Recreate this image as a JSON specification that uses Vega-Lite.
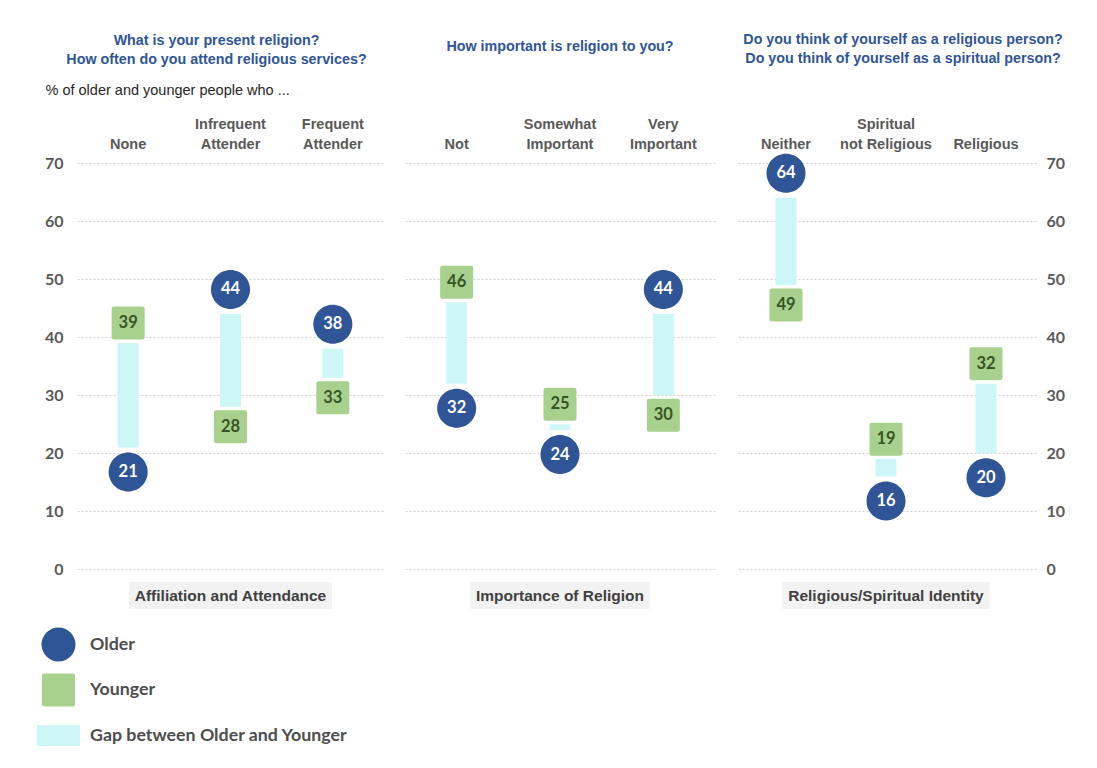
{
  "$schema": "https://vega.github.io/schema/vega-lite/v6.json",
  "padding": {"left": 37, "top": 32, "right": 5, "bottom": 5},
  "spacing": 21,
  "config": {
    "view": {"stroke": null},
    "title": {"font": "Liberation Sans, Arial, sans-serif", "fontSize": 14.3, "fontWeight": "bold", "color": "#2f5597", "lineHeight": 19, "anchor": "middle"}
  },
  "hconcat": [
    {
      "width": 307,
      "height": 450,
      "title": {"text": ["What is your present religion?", "How often do you attend religious services?"], "offset": 15, "dx": -14},
      "data": {"values": [
        {"cat": "None", "older": 21, "younger": 39},
        {"cat": "Infrequent Attender", "older": 44, "younger": 28},
        {"cat": "Frequent Attender", "older": 38, "younger": 33}
      ]},
      "layer": [
        {
          "mark": {"type": "bar", "size": 21},
          "encoding": {
            "x": {"field": "cat", "type": "nominal", "scale": {"domain": ["None", "Infrequent Attender", "Frequent Attender"], "paddingInner": 0, "paddingOuter": 0}, "axis": {"orient": "top", "domain": false, "ticks": false, "grid": false, "labelAngle": 0, "labelPadding": 32, "labelLineHeight": 20, "labelFont": "Liberation Sans, Arial, sans-serif", "labelFontSize": 14.5, "labelFontWeight": "bold", "labelColor": "#595959", "labelExpr": "datum.value == 'Spiritual not Religious' ? ['Spiritual', 'not Religious'] : indexof(datum.value, ' ') > 0 ? split(datum.value, ' ') : ['', datum.value]", "title": "% of older and younger people who ...", "titleFont": "Liberation Sans, Arial, sans-serif", "titleFontSize": 14.5, "titleFontWeight": "normal", "titleColor": "#262626", "titleAnchor": "start", "titleAlign": "left", "titleX": -32, "titlePadding": 19}},
            "y": {"field": "older", "type": "quantitative", "scale": {"domain": [-7.5, 70], "nice": false, "zero": false}, "axis": {"orient": "left", "values": [0, 10, 20, 30, 40, 50, 60, 70], "domain": false, "ticks": false, "grid": true, "gridColor": "#d0d0d0", "gridDash": [2, 2], "labelPadding": 14, "labelFont": "Lato", "labelFontSize": 16, "labelFontWeight": "bold", "labelColor": "#595959", "labelFlush": false, "labelOverlap": false, "title": null}},
            "y2": {"field": "younger"},
            "color": {"datum": "Gap between Older and Younger", "scale": {"domain": ["Older", "Younger", "Gap between Older and Younger"], "range": ["#2f5597", "#a9d18e", "#ccf6f7"]}, "legend": {"title": null, "orient": "none", "legendX": -40, "legendY": 460, "symbolSize": 1849, "labelFont": "Lato", "labelFontSize": 17.8, "labelFontWeight": "bold", "labelColor": "#4d4d4d", "labelOffset": 10, "rowPadding": 6.5, "symbolStrokeWidth": 0, "symbolOpacity": 1, "labelLimit": 400}}
          }
        },
        {
          "data": {"values": [{"label": "Affiliation and Attendance"}]},
          "mark": {"type": "bar", "width": 203, "color": "#f2f2f2"},
          "encoding": {
            "x": {"datum": "Infrequent Attender", "type": "nominal", "scale": {"domain": ["None", "Infrequent Attender", "Frequent Attender"], "paddingInner": 0, "paddingOuter": 0}, "axis": {"orient": "top", "domain": false, "ticks": false, "grid": false, "labelAngle": 0, "labelPadding": 32, "labelLineHeight": 20, "labelFont": "Liberation Sans, Arial, sans-serif", "labelFontSize": 14.5, "labelFontWeight": "bold", "labelColor": "#595959", "labelExpr": "datum.value == 'Spiritual not Religious' ? ['Spiritual', 'not Religious'] : indexof(datum.value, ' ') > 0 ? split(datum.value, ' ') : ['', datum.value]", "title": "% of older and younger people who ...", "titleFont": "Liberation Sans, Arial, sans-serif", "titleFontSize": 14.5, "titleFontWeight": "normal", "titleColor": "#262626", "titleAnchor": "start", "titleAlign": "left", "titleX": -32, "titlePadding": 19}},
            "y": {"datum": -2.17, "type": "quantitative", "scale": {"domain": [-7.5, 70], "nice": false, "zero": false}, "axis": {"orient": "left", "values": [0, 10, 20, 30, 40, 50, 60, 70], "domain": false, "ticks": false, "grid": true, "gridColor": "#d0d0d0", "gridDash": [2, 2], "labelPadding": 14, "labelFont": "Lato", "labelFontSize": 16, "labelFontWeight": "bold", "labelColor": "#595959", "labelFlush": false, "labelOverlap": false, "title": null}},
            "y2": {"datum": -6.82}
          }
        },
        {
          "data": {"values": [{"label": "Affiliation and Attendance"}]},
          "mark": {"type": "text", "font": "Liberation Sans, Arial, sans-serif", "fontSize": 15.5, "fontWeight": "bold", "color": "#404040", "baseline": "middle"},
          "encoding": {
            "x": {"datum": "Infrequent Attender", "type": "nominal", "scale": {"domain": ["None", "Infrequent Attender", "Frequent Attender"], "paddingInner": 0, "paddingOuter": 0}, "axis": {"orient": "top", "domain": false, "ticks": false, "grid": false, "labelAngle": 0, "labelPadding": 32, "labelLineHeight": 20, "labelFont": "Liberation Sans, Arial, sans-serif", "labelFontSize": 14.5, "labelFontWeight": "bold", "labelColor": "#595959", "labelExpr": "datum.value == 'Spiritual not Religious' ? ['Spiritual', 'not Religious'] : indexof(datum.value, ' ') > 0 ? split(datum.value, ' ') : ['', datum.value]", "title": "% of older and younger people who ...", "titleFont": "Liberation Sans, Arial, sans-serif", "titleFontSize": 14.5, "titleFontWeight": "normal", "titleColor": "#262626", "titleAnchor": "start", "titleAlign": "left", "titleX": -32, "titlePadding": 19}},
            "y": {"datum": -4.58, "type": "quantitative", "scale": {"domain": [-7.5, 70], "nice": false, "zero": false}, "axis": {"orient": "left", "values": [0, 10, 20, 30, 40, 50, 60, 70], "domain": false, "ticks": false, "grid": true, "gridColor": "#d0d0d0", "gridDash": [2, 2], "labelPadding": 14, "labelFont": "Lato", "labelFontSize": 16, "labelFontWeight": "bold", "labelColor": "#595959", "labelFlush": false, "labelOverlap": false, "title": null}},
            "text": {"field": "label"}
          }
        },
        {
          "transform": [{"filter": "datum.older > datum.younger"}],
          "mark": {"type": "point", "filled": true, "opacity": 1, "size": 2437, "yOffset": -24.5},
          "encoding": {
            "x": {"field": "cat", "type": "nominal", "scale": {"domain": ["None", "Infrequent Attender", "Frequent Attender"], "paddingInner": 0, "paddingOuter": 0}, "axis": {"orient": "top", "domain": false, "ticks": false, "grid": false, "labelAngle": 0, "labelPadding": 32, "labelLineHeight": 20, "labelFont": "Liberation Sans, Arial, sans-serif", "labelFontSize": 14.5, "labelFontWeight": "bold", "labelColor": "#595959", "labelExpr": "datum.value == 'Spiritual not Religious' ? ['Spiritual', 'not Religious'] : indexof(datum.value, ' ') > 0 ? split(datum.value, ' ') : ['', datum.value]", "title": "% of older and younger people who ...", "titleFont": "Liberation Sans, Arial, sans-serif", "titleFontSize": 14.5, "titleFontWeight": "normal", "titleColor": "#262626", "titleAnchor": "start", "titleAlign": "left", "titleX": -32, "titlePadding": 19}},
            "y": {"field": "older", "type": "quantitative", "scale": {"domain": [-7.5, 70], "nice": false, "zero": false}, "axis": {"orient": "left", "values": [0, 10, 20, 30, 40, 50, 60, 70], "domain": false, "ticks": false, "grid": true, "gridColor": "#d0d0d0", "gridDash": [2, 2], "labelPadding": 14, "labelFont": "Lato", "labelFontSize": 16, "labelFontWeight": "bold", "labelColor": "#595959", "labelFlush": false, "labelOverlap": false, "title": null}},
            "color": {"datum": "Older", "scale": {"domain": ["Older", "Younger", "Gap between Older and Younger"], "range": ["#2f5597", "#a9d18e", "#ccf6f7"]}, "legend": {"title": null, "orient": "none", "legendX": -40, "legendY": 460, "symbolSize": 1849, "labelFont": "Lato", "labelFontSize": 17.8, "labelFontWeight": "bold", "labelColor": "#4d4d4d", "labelOffset": 10, "rowPadding": 6.5, "symbolStrokeWidth": 0, "symbolOpacity": 1, "labelLimit": 400}},
            "shape": {"datum": "Older", "scale": {"domain": ["Older", "Younger", "Gap between Older and Younger"], "range": ["M-0.79,0A0.79,0.79,0,1,0,0.79,0A0.79,0.79,0,1,0,-0.79,0Z", "M-0.67,-0.77L0.67,-0.77Q0.77,-0.77,0.77,-0.67L0.77,0.67Q0.77,0.77,0.67,0.77L-0.67,0.77Q-0.77,0.77,-0.77,0.67L-0.77,-0.67Q-0.77,-0.77,-0.67,-0.77Z", "M-1,-0.49L1,-0.49L1,0.49L-1,0.49Z"]}, "legend": {"title": null, "orient": "none", "legendX": -40, "legendY": 460, "symbolSize": 1849, "labelFont": "Lato", "labelFontSize": 17.8, "labelFontWeight": "bold", "labelColor": "#4d4d4d", "labelOffset": 10, "rowPadding": 6.5, "symbolStrokeWidth": 0, "symbolOpacity": 1, "labelLimit": 400}}
          }
        },
        {
          "transform": [{"filter": "datum.older <= datum.younger"}],
          "mark": {"type": "point", "filled": true, "opacity": 1, "size": 2437, "yOffset": 24.5},
          "encoding": {
            "x": {"field": "cat", "type": "nominal", "scale": {"domain": ["None", "Infrequent Attender", "Frequent Attender"], "paddingInner": 0, "paddingOuter": 0}, "axis": {"orient": "top", "domain": false, "ticks": false, "grid": false, "labelAngle": 0, "labelPadding": 32, "labelLineHeight": 20, "labelFont": "Liberation Sans, Arial, sans-serif", "labelFontSize": 14.5, "labelFontWeight": "bold", "labelColor": "#595959", "labelExpr": "datum.value == 'Spiritual not Religious' ? ['Spiritual', 'not Religious'] : indexof(datum.value, ' ') > 0 ? split(datum.value, ' ') : ['', datum.value]", "title": "% of older and younger people who ...", "titleFont": "Liberation Sans, Arial, sans-serif", "titleFontSize": 14.5, "titleFontWeight": "normal", "titleColor": "#262626", "titleAnchor": "start", "titleAlign": "left", "titleX": -32, "titlePadding": 19}},
            "y": {"field": "older", "type": "quantitative", "scale": {"domain": [-7.5, 70], "nice": false, "zero": false}, "axis": {"orient": "left", "values": [0, 10, 20, 30, 40, 50, 60, 70], "domain": false, "ticks": false, "grid": true, "gridColor": "#d0d0d0", "gridDash": [2, 2], "labelPadding": 14, "labelFont": "Lato", "labelFontSize": 16, "labelFontWeight": "bold", "labelColor": "#595959", "labelFlush": false, "labelOverlap": false, "title": null}},
            "color": {"datum": "Older", "scale": {"domain": ["Older", "Younger", "Gap between Older and Younger"], "range": ["#2f5597", "#a9d18e", "#ccf6f7"]}, "legend": {"title": null, "orient": "none", "legendX": -40, "legendY": 460, "symbolSize": 1849, "labelFont": "Lato", "labelFontSize": 17.8, "labelFontWeight": "bold", "labelColor": "#4d4d4d", "labelOffset": 10, "rowPadding": 6.5, "symbolStrokeWidth": 0, "symbolOpacity": 1, "labelLimit": 400}},
            "shape": {"datum": "Older", "scale": {"domain": ["Older", "Younger", "Gap between Older and Younger"], "range": ["M-0.79,0A0.79,0.79,0,1,0,0.79,0A0.79,0.79,0,1,0,-0.79,0Z", "M-0.67,-0.77L0.67,-0.77Q0.77,-0.77,0.77,-0.67L0.77,0.67Q0.77,0.77,0.67,0.77L-0.67,0.77Q-0.77,0.77,-0.77,0.67L-0.77,-0.67Q-0.77,-0.77,-0.67,-0.77Z", "M-1,-0.49L1,-0.49L1,0.49L-1,0.49Z"]}, "legend": {"title": null, "orient": "none", "legendX": -40, "legendY": 460, "symbolSize": 1849, "labelFont": "Lato", "labelFontSize": 17.8, "labelFontWeight": "bold", "labelColor": "#4d4d4d", "labelOffset": 10, "rowPadding": 6.5, "symbolStrokeWidth": 0, "symbolOpacity": 1, "labelLimit": 400}}
          }
        },
        {
          "transform": [{"filter": "datum.older > datum.younger"}],
          "mark": {"type": "text", "yOffset": -24.5, "color": "#ffffff", "font": "Lato", "fontWeight": "bold", "fontSize": 16.5, "baseline": "middle"},
          "encoding": {
            "x": {"field": "cat", "type": "nominal", "scale": {"domain": ["None", "Infrequent Attender", "Frequent Attender"], "paddingInner": 0, "paddingOuter": 0}, "axis": {"orient": "top", "domain": false, "ticks": false, "grid": false, "labelAngle": 0, "labelPadding": 32, "labelLineHeight": 20, "labelFont": "Liberation Sans, Arial, sans-serif", "labelFontSize": 14.5, "labelFontWeight": "bold", "labelColor": "#595959", "labelExpr": "datum.value == 'Spiritual not Religious' ? ['Spiritual', 'not Religious'] : indexof(datum.value, ' ') > 0 ? split(datum.value, ' ') : ['', datum.value]", "title": "% of older and younger people who ...", "titleFont": "Liberation Sans, Arial, sans-serif", "titleFontSize": 14.5, "titleFontWeight": "normal", "titleColor": "#262626", "titleAnchor": "start", "titleAlign": "left", "titleX": -32, "titlePadding": 19}},
            "y": {"field": "older", "type": "quantitative", "scale": {"domain": [-7.5, 70], "nice": false, "zero": false}, "axis": {"orient": "left", "values": [0, 10, 20, 30, 40, 50, 60, 70], "domain": false, "ticks": false, "grid": true, "gridColor": "#d0d0d0", "gridDash": [2, 2], "labelPadding": 14, "labelFont": "Lato", "labelFontSize": 16, "labelFontWeight": "bold", "labelColor": "#595959", "labelFlush": false, "labelOverlap": false, "title": null}},
            "text": {"field": "older"}
          }
        },
        {
          "transform": [{"filter": "datum.older <= datum.younger"}],
          "mark": {"type": "text", "yOffset": 24.5, "color": "#ffffff", "font": "Lato", "fontWeight": "bold", "fontSize": 16.5, "baseline": "middle"},
          "encoding": {
            "x": {"field": "cat", "type": "nominal", "scale": {"domain": ["None", "Infrequent Attender", "Frequent Attender"], "paddingInner": 0, "paddingOuter": 0}, "axis": {"orient": "top", "domain": false, "ticks": false, "grid": false, "labelAngle": 0, "labelPadding": 32, "labelLineHeight": 20, "labelFont": "Liberation Sans, Arial, sans-serif", "labelFontSize": 14.5, "labelFontWeight": "bold", "labelColor": "#595959", "labelExpr": "datum.value == 'Spiritual not Religious' ? ['Spiritual', 'not Religious'] : indexof(datum.value, ' ') > 0 ? split(datum.value, ' ') : ['', datum.value]", "title": "% of older and younger people who ...", "titleFont": "Liberation Sans, Arial, sans-serif", "titleFontSize": 14.5, "titleFontWeight": "normal", "titleColor": "#262626", "titleAnchor": "start", "titleAlign": "left", "titleX": -32, "titlePadding": 19}},
            "y": {"field": "older", "type": "quantitative", "scale": {"domain": [-7.5, 70], "nice": false, "zero": false}, "axis": {"orient": "left", "values": [0, 10, 20, 30, 40, 50, 60, 70], "domain": false, "ticks": false, "grid": true, "gridColor": "#d0d0d0", "gridDash": [2, 2], "labelPadding": 14, "labelFont": "Lato", "labelFontSize": 16, "labelFontWeight": "bold", "labelColor": "#595959", "labelFlush": false, "labelOverlap": false, "title": null}},
            "text": {"field": "older"}
          }
        },
        {
          "transform": [{"filter": "datum.older > datum.younger"}],
          "mark": {"type": "point", "filled": true, "opacity": 1, "size": 1837, "yOffset": 20},
          "encoding": {
            "x": {"field": "cat", "type": "nominal", "scale": {"domain": ["None", "Infrequent Attender", "Frequent Attender"], "paddingInner": 0, "paddingOuter": 0}, "axis": {"orient": "top", "domain": false, "ticks": false, "grid": false, "labelAngle": 0, "labelPadding": 32, "labelLineHeight": 20, "labelFont": "Liberation Sans, Arial, sans-serif", "labelFontSize": 14.5, "labelFontWeight": "bold", "labelColor": "#595959", "labelExpr": "datum.value == 'Spiritual not Religious' ? ['Spiritual', 'not Religious'] : indexof(datum.value, ' ') > 0 ? split(datum.value, ' ') : ['', datum.value]", "title": "% of older and younger people who ...", "titleFont": "Liberation Sans, Arial, sans-serif", "titleFontSize": 14.5, "titleFontWeight": "normal", "titleColor": "#262626", "titleAnchor": "start", "titleAlign": "left", "titleX": -32, "titlePadding": 19}},
            "y": {"field": "younger", "type": "quantitative", "scale": {"domain": [-7.5, 70], "nice": false, "zero": false}, "axis": {"orient": "left", "values": [0, 10, 20, 30, 40, 50, 60, 70], "domain": false, "ticks": false, "grid": true, "gridColor": "#d0d0d0", "gridDash": [2, 2], "labelPadding": 14, "labelFont": "Lato", "labelFontSize": 16, "labelFontWeight": "bold", "labelColor": "#595959", "labelFlush": false, "labelOverlap": false, "title": null}},
            "color": {"datum": "Younger", "scale": {"domain": ["Older", "Younger", "Gap between Older and Younger"], "range": ["#2f5597", "#a9d18e", "#ccf6f7"]}, "legend": {"title": null, "orient": "none", "legendX": -40, "legendY": 460, "symbolSize": 1849, "labelFont": "Lato", "labelFontSize": 17.8, "labelFontWeight": "bold", "labelColor": "#4d4d4d", "labelOffset": 10, "rowPadding": 6.5, "symbolStrokeWidth": 0, "symbolOpacity": 1, "labelLimit": 400}},
            "shape": {"datum": "Younger", "scale": {"domain": ["Older", "Younger", "Gap between Older and Younger"], "range": ["M-0.79,0A0.79,0.79,0,1,0,0.79,0A0.79,0.79,0,1,0,-0.79,0Z", "M-0.67,-0.77L0.67,-0.77Q0.77,-0.77,0.77,-0.67L0.77,0.67Q0.77,0.77,0.67,0.77L-0.67,0.77Q-0.77,0.77,-0.77,0.67L-0.77,-0.67Q-0.77,-0.77,-0.67,-0.77Z", "M-1,-0.49L1,-0.49L1,0.49L-1,0.49Z"]}, "legend": {"title": null, "orient": "none", "legendX": -40, "legendY": 460, "symbolSize": 1849, "labelFont": "Lato", "labelFontSize": 17.8, "labelFontWeight": "bold", "labelColor": "#4d4d4d", "labelOffset": 10, "rowPadding": 6.5, "symbolStrokeWidth": 0, "symbolOpacity": 1, "labelLimit": 400}}
          }
        },
        {
          "transform": [{"filter": "datum.older <= datum.younger"}],
          "mark": {"type": "point", "filled": true, "opacity": 1, "size": 1837, "yOffset": -20},
          "encoding": {
            "x": {"field": "cat", "type": "nominal", "scale": {"domain": ["None", "Infrequent Attender", "Frequent Attender"], "paddingInner": 0, "paddingOuter": 0}, "axis": {"orient": "top", "domain": false, "ticks": false, "grid": false, "labelAngle": 0, "labelPadding": 32, "labelLineHeight": 20, "labelFont": "Liberation Sans, Arial, sans-serif", "labelFontSize": 14.5, "labelFontWeight": "bold", "labelColor": "#595959", "labelExpr": "datum.value == 'Spiritual not Religious' ? ['Spiritual', 'not Religious'] : indexof(datum.value, ' ') > 0 ? split(datum.value, ' ') : ['', datum.value]", "title": "% of older and younger people who ...", "titleFont": "Liberation Sans, Arial, sans-serif", "titleFontSize": 14.5, "titleFontWeight": "normal", "titleColor": "#262626", "titleAnchor": "start", "titleAlign": "left", "titleX": -32, "titlePadding": 19}},
            "y": {"field": "younger", "type": "quantitative", "scale": {"domain": [-7.5, 70], "nice": false, "zero": false}, "axis": {"orient": "left", "values": [0, 10, 20, 30, 40, 50, 60, 70], "domain": false, "ticks": false, "grid": true, "gridColor": "#d0d0d0", "gridDash": [2, 2], "labelPadding": 14, "labelFont": "Lato", "labelFontSize": 16, "labelFontWeight": "bold", "labelColor": "#595959", "labelFlush": false, "labelOverlap": false, "title": null}},
            "color": {"datum": "Younger", "scale": {"domain": ["Older", "Younger", "Gap between Older and Younger"], "range": ["#2f5597", "#a9d18e", "#ccf6f7"]}, "legend": {"title": null, "orient": "none", "legendX": -40, "legendY": 460, "symbolSize": 1849, "labelFont": "Lato", "labelFontSize": 17.8, "labelFontWeight": "bold", "labelColor": "#4d4d4d", "labelOffset": 10, "rowPadding": 6.5, "symbolStrokeWidth": 0, "symbolOpacity": 1, "labelLimit": 400}},
            "shape": {"datum": "Younger", "scale": {"domain": ["Older", "Younger", "Gap between Older and Younger"], "range": ["M-0.79,0A0.79,0.79,0,1,0,0.79,0A0.79,0.79,0,1,0,-0.79,0Z", "M-0.67,-0.77L0.67,-0.77Q0.77,-0.77,0.77,-0.67L0.77,0.67Q0.77,0.77,0.67,0.77L-0.67,0.77Q-0.77,0.77,-0.77,0.67L-0.77,-0.67Q-0.77,-0.77,-0.67,-0.77Z", "M-1,-0.49L1,-0.49L1,0.49L-1,0.49Z"]}, "legend": {"title": null, "orient": "none", "legendX": -40, "legendY": 460, "symbolSize": 1849, "labelFont": "Lato", "labelFontSize": 17.8, "labelFontWeight": "bold", "labelColor": "#4d4d4d", "labelOffset": 10, "rowPadding": 6.5, "symbolStrokeWidth": 0, "symbolOpacity": 1, "labelLimit": 400}}
          }
        },
        {
          "transform": [{"filter": "datum.older > datum.younger"}],
          "mark": {"type": "text", "yOffset": 20, "color": "#375623", "font": "Lato", "fontWeight": "bold", "fontSize": 16.5, "baseline": "middle"},
          "encoding": {
            "x": {"field": "cat", "type": "nominal", "scale": {"domain": ["None", "Infrequent Attender", "Frequent Attender"], "paddingInner": 0, "paddingOuter": 0}, "axis": {"orient": "top", "domain": false, "ticks": false, "grid": false, "labelAngle": 0, "labelPadding": 32, "labelLineHeight": 20, "labelFont": "Liberation Sans, Arial, sans-serif", "labelFontSize": 14.5, "labelFontWeight": "bold", "labelColor": "#595959", "labelExpr": "datum.value == 'Spiritual not Religious' ? ['Spiritual', 'not Religious'] : indexof(datum.value, ' ') > 0 ? split(datum.value, ' ') : ['', datum.value]", "title": "% of older and younger people who ...", "titleFont": "Liberation Sans, Arial, sans-serif", "titleFontSize": 14.5, "titleFontWeight": "normal", "titleColor": "#262626", "titleAnchor": "start", "titleAlign": "left", "titleX": -32, "titlePadding": 19}},
            "y": {"field": "younger", "type": "quantitative", "scale": {"domain": [-7.5, 70], "nice": false, "zero": false}, "axis": {"orient": "left", "values": [0, 10, 20, 30, 40, 50, 60, 70], "domain": false, "ticks": false, "grid": true, "gridColor": "#d0d0d0", "gridDash": [2, 2], "labelPadding": 14, "labelFont": "Lato", "labelFontSize": 16, "labelFontWeight": "bold", "labelColor": "#595959", "labelFlush": false, "labelOverlap": false, "title": null}},
            "text": {"field": "younger"}
          }
        },
        {
          "transform": [{"filter": "datum.older <= datum.younger"}],
          "mark": {"type": "text", "yOffset": -20, "color": "#375623", "font": "Lato", "fontWeight": "bold", "fontSize": 16.5, "baseline": "middle"},
          "encoding": {
            "x": {"field": "cat", "type": "nominal", "scale": {"domain": ["None", "Infrequent Attender", "Frequent Attender"], "paddingInner": 0, "paddingOuter": 0}, "axis": {"orient": "top", "domain": false, "ticks": false, "grid": false, "labelAngle": 0, "labelPadding": 32, "labelLineHeight": 20, "labelFont": "Liberation Sans, Arial, sans-serif", "labelFontSize": 14.5, "labelFontWeight": "bold", "labelColor": "#595959", "labelExpr": "datum.value == 'Spiritual not Religious' ? ['Spiritual', 'not Religious'] : indexof(datum.value, ' ') > 0 ? split(datum.value, ' ') : ['', datum.value]", "title": "% of older and younger people who ...", "titleFont": "Liberation Sans, Arial, sans-serif", "titleFontSize": 14.5, "titleFontWeight": "normal", "titleColor": "#262626", "titleAnchor": "start", "titleAlign": "left", "titleX": -32, "titlePadding": 19}},
            "y": {"field": "younger", "type": "quantitative", "scale": {"domain": [-7.5, 70], "nice": false, "zero": false}, "axis": {"orient": "left", "values": [0, 10, 20, 30, 40, 50, 60, 70], "domain": false, "ticks": false, "grid": true, "gridColor": "#d0d0d0", "gridDash": [2, 2], "labelPadding": 14, "labelFont": "Lato", "labelFontSize": 16, "labelFontWeight": "bold", "labelColor": "#595959", "labelFlush": false, "labelOverlap": false, "title": null}},
            "text": {"field": "younger"}
          }
        }
      ]
    },
    {
      "width": 310,
      "height": 450,
      "title": {"text": "How important is religion to you?", "offset": 62},
      "data": {"values": [
        {"cat": "Not", "older": 32, "younger": 46},
        {"cat": "Somewhat Important", "older": 24, "younger": 25},
        {"cat": "Very Important", "older": 44, "younger": 30}
      ]},
      "layer": [
        {
          "mark": {"type": "bar", "size": 21},
          "encoding": {
            "x": {"field": "cat", "type": "nominal", "scale": {"domain": ["Not", "Somewhat Important", "Very Important"], "paddingInner": 0, "paddingOuter": 0}, "axis": {"orient": "top", "domain": false, "ticks": false, "grid": false, "labelAngle": 0, "labelPadding": 32, "labelLineHeight": 20, "labelFont": "Liberation Sans, Arial, sans-serif", "labelFontSize": 14.5, "labelFontWeight": "bold", "labelColor": "#595959", "labelExpr": "datum.value == 'Spiritual not Religious' ? ['Spiritual', 'not Religious'] : indexof(datum.value, ' ') > 0 ? split(datum.value, ' ') : ['', datum.value]", "title": null}},
            "y": {"field": "older", "type": "quantitative", "scale": {"domain": [-7.5, 70], "nice": false, "zero": false}, "axis": {"orient": "left", "values": [0, 10, 20, 30, 40, 50, 60, 70], "domain": false, "ticks": false, "labels": false, "grid": true, "gridColor": "#d0d0d0", "gridDash": [2, 2], "title": null}},
            "y2": {"field": "younger"},
            "color": {"datum": "Gap between Older and Younger", "scale": {"domain": ["Older", "Younger", "Gap between Older and Younger"], "range": ["#2f5597", "#a9d18e", "#ccf6f7"]}, "legend": {"title": null, "orient": "none", "legendX": -40, "legendY": 460, "symbolSize": 1849, "labelFont": "Lato", "labelFontSize": 17.8, "labelFontWeight": "bold", "labelColor": "#4d4d4d", "labelOffset": 10, "rowPadding": 6.5, "symbolStrokeWidth": 0, "symbolOpacity": 1, "labelLimit": 400}}
          }
        },
        {
          "data": {"values": [{"label": "Importance of Religion"}]},
          "mark": {"type": "bar", "width": 179, "color": "#f2f2f2"},
          "encoding": {
            "x": {"datum": "Somewhat Important", "type": "nominal", "scale": {"domain": ["Not", "Somewhat Important", "Very Important"], "paddingInner": 0, "paddingOuter": 0}, "axis": {"orient": "top", "domain": false, "ticks": false, "grid": false, "labelAngle": 0, "labelPadding": 32, "labelLineHeight": 20, "labelFont": "Liberation Sans, Arial, sans-serif", "labelFontSize": 14.5, "labelFontWeight": "bold", "labelColor": "#595959", "labelExpr": "datum.value == 'Spiritual not Religious' ? ['Spiritual', 'not Religious'] : indexof(datum.value, ' ') > 0 ? split(datum.value, ' ') : ['', datum.value]", "title": null}},
            "y": {"datum": -2.17, "type": "quantitative", "scale": {"domain": [-7.5, 70], "nice": false, "zero": false}, "axis": {"orient": "left", "values": [0, 10, 20, 30, 40, 50, 60, 70], "domain": false, "ticks": false, "labels": false, "grid": true, "gridColor": "#d0d0d0", "gridDash": [2, 2], "title": null}},
            "y2": {"datum": -6.82}
          }
        },
        {
          "data": {"values": [{"label": "Importance of Religion"}]},
          "mark": {"type": "text", "font": "Liberation Sans, Arial, sans-serif", "fontSize": 15.5, "fontWeight": "bold", "color": "#404040", "baseline": "middle"},
          "encoding": {
            "x": {"datum": "Somewhat Important", "type": "nominal", "scale": {"domain": ["Not", "Somewhat Important", "Very Important"], "paddingInner": 0, "paddingOuter": 0}, "axis": {"orient": "top", "domain": false, "ticks": false, "grid": false, "labelAngle": 0, "labelPadding": 32, "labelLineHeight": 20, "labelFont": "Liberation Sans, Arial, sans-serif", "labelFontSize": 14.5, "labelFontWeight": "bold", "labelColor": "#595959", "labelExpr": "datum.value == 'Spiritual not Religious' ? ['Spiritual', 'not Religious'] : indexof(datum.value, ' ') > 0 ? split(datum.value, ' ') : ['', datum.value]", "title": null}},
            "y": {"datum": -4.58, "type": "quantitative", "scale": {"domain": [-7.5, 70], "nice": false, "zero": false}, "axis": {"orient": "left", "values": [0, 10, 20, 30, 40, 50, 60, 70], "domain": false, "ticks": false, "labels": false, "grid": true, "gridColor": "#d0d0d0", "gridDash": [2, 2], "title": null}},
            "text": {"field": "label"}
          }
        },
        {
          "transform": [{"filter": "datum.older > datum.younger"}],
          "mark": {"type": "point", "filled": true, "opacity": 1, "size": 2437, "yOffset": -24.5},
          "encoding": {
            "x": {"field": "cat", "type": "nominal", "scale": {"domain": ["Not", "Somewhat Important", "Very Important"], "paddingInner": 0, "paddingOuter": 0}, "axis": {"orient": "top", "domain": false, "ticks": false, "grid": false, "labelAngle": 0, "labelPadding": 32, "labelLineHeight": 20, "labelFont": "Liberation Sans, Arial, sans-serif", "labelFontSize": 14.5, "labelFontWeight": "bold", "labelColor": "#595959", "labelExpr": "datum.value == 'Spiritual not Religious' ? ['Spiritual', 'not Religious'] : indexof(datum.value, ' ') > 0 ? split(datum.value, ' ') : ['', datum.value]", "title": null}},
            "y": {"field": "older", "type": "quantitative", "scale": {"domain": [-7.5, 70], "nice": false, "zero": false}, "axis": {"orient": "left", "values": [0, 10, 20, 30, 40, 50, 60, 70], "domain": false, "ticks": false, "labels": false, "grid": true, "gridColor": "#d0d0d0", "gridDash": [2, 2], "title": null}},
            "color": {"datum": "Older", "scale": {"domain": ["Older", "Younger", "Gap between Older and Younger"], "range": ["#2f5597", "#a9d18e", "#ccf6f7"]}, "legend": {"title": null, "orient": "none", "legendX": -40, "legendY": 460, "symbolSize": 1849, "labelFont": "Lato", "labelFontSize": 17.8, "labelFontWeight": "bold", "labelColor": "#4d4d4d", "labelOffset": 10, "rowPadding": 6.5, "symbolStrokeWidth": 0, "symbolOpacity": 1, "labelLimit": 400}},
            "shape": {"datum": "Older", "scale": {"domain": ["Older", "Younger", "Gap between Older and Younger"], "range": ["M-0.79,0A0.79,0.79,0,1,0,0.79,0A0.79,0.79,0,1,0,-0.79,0Z", "M-0.67,-0.77L0.67,-0.77Q0.77,-0.77,0.77,-0.67L0.77,0.67Q0.77,0.77,0.67,0.77L-0.67,0.77Q-0.77,0.77,-0.77,0.67L-0.77,-0.67Q-0.77,-0.77,-0.67,-0.77Z", "M-1,-0.49L1,-0.49L1,0.49L-1,0.49Z"]}, "legend": {"title": null, "orient": "none", "legendX": -40, "legendY": 460, "symbolSize": 1849, "labelFont": "Lato", "labelFontSize": 17.8, "labelFontWeight": "bold", "labelColor": "#4d4d4d", "labelOffset": 10, "rowPadding": 6.5, "symbolStrokeWidth": 0, "symbolOpacity": 1, "labelLimit": 400}}
          }
        },
        {
          "transform": [{"filter": "datum.older <= datum.younger"}],
          "mark": {"type": "point", "filled": true, "opacity": 1, "size": 2437, "yOffset": 24.5},
          "encoding": {
            "x": {"field": "cat", "type": "nominal", "scale": {"domain": ["Not", "Somewhat Important", "Very Important"], "paddingInner": 0, "paddingOuter": 0}, "axis": {"orient": "top", "domain": false, "ticks": false, "grid": false, "labelAngle": 0, "labelPadding": 32, "labelLineHeight": 20, "labelFont": "Liberation Sans, Arial, sans-serif", "labelFontSize": 14.5, "labelFontWeight": "bold", "labelColor": "#595959", "labelExpr": "datum.value == 'Spiritual not Religious' ? ['Spiritual', 'not Religious'] : indexof(datum.value, ' ') > 0 ? split(datum.value, ' ') : ['', datum.value]", "title": null}},
            "y": {"field": "older", "type": "quantitative", "scale": {"domain": [-7.5, 70], "nice": false, "zero": false}, "axis": {"orient": "left", "values": [0, 10, 20, 30, 40, 50, 60, 70], "domain": false, "ticks": false, "labels": false, "grid": true, "gridColor": "#d0d0d0", "gridDash": [2, 2], "title": null}},
            "color": {"datum": "Older", "scale": {"domain": ["Older", "Younger", "Gap between Older and Younger"], "range": ["#2f5597", "#a9d18e", "#ccf6f7"]}, "legend": {"title": null, "orient": "none", "legendX": -40, "legendY": 460, "symbolSize": 1849, "labelFont": "Lato", "labelFontSize": 17.8, "labelFontWeight": "bold", "labelColor": "#4d4d4d", "labelOffset": 10, "rowPadding": 6.5, "symbolStrokeWidth": 0, "symbolOpacity": 1, "labelLimit": 400}},
            "shape": {"datum": "Older", "scale": {"domain": ["Older", "Younger", "Gap between Older and Younger"], "range": ["M-0.79,0A0.79,0.79,0,1,0,0.79,0A0.79,0.79,0,1,0,-0.79,0Z", "M-0.67,-0.77L0.67,-0.77Q0.77,-0.77,0.77,-0.67L0.77,0.67Q0.77,0.77,0.67,0.77L-0.67,0.77Q-0.77,0.77,-0.77,0.67L-0.77,-0.67Q-0.77,-0.77,-0.67,-0.77Z", "M-1,-0.49L1,-0.49L1,0.49L-1,0.49Z"]}, "legend": {"title": null, "orient": "none", "legendX": -40, "legendY": 460, "symbolSize": 1849, "labelFont": "Lato", "labelFontSize": 17.8, "labelFontWeight": "bold", "labelColor": "#4d4d4d", "labelOffset": 10, "rowPadding": 6.5, "symbolStrokeWidth": 0, "symbolOpacity": 1, "labelLimit": 400}}
          }
        },
        {
          "transform": [{"filter": "datum.older > datum.younger"}],
          "mark": {"type": "text", "yOffset": -24.5, "color": "#ffffff", "font": "Lato", "fontWeight": "bold", "fontSize": 16.5, "baseline": "middle"},
          "encoding": {
            "x": {"field": "cat", "type": "nominal", "scale": {"domain": ["Not", "Somewhat Important", "Very Important"], "paddingInner": 0, "paddingOuter": 0}, "axis": {"orient": "top", "domain": false, "ticks": false, "grid": false, "labelAngle": 0, "labelPadding": 32, "labelLineHeight": 20, "labelFont": "Liberation Sans, Arial, sans-serif", "labelFontSize": 14.5, "labelFontWeight": "bold", "labelColor": "#595959", "labelExpr": "datum.value == 'Spiritual not Religious' ? ['Spiritual', 'not Religious'] : indexof(datum.value, ' ') > 0 ? split(datum.value, ' ') : ['', datum.value]", "title": null}},
            "y": {"field": "older", "type": "quantitative", "scale": {"domain": [-7.5, 70], "nice": false, "zero": false}, "axis": {"orient": "left", "values": [0, 10, 20, 30, 40, 50, 60, 70], "domain": false, "ticks": false, "labels": false, "grid": true, "gridColor": "#d0d0d0", "gridDash": [2, 2], "title": null}},
            "text": {"field": "older"}
          }
        },
        {
          "transform": [{"filter": "datum.older <= datum.younger"}],
          "mark": {"type": "text", "yOffset": 24.5, "color": "#ffffff", "font": "Lato", "fontWeight": "bold", "fontSize": 16.5, "baseline": "middle"},
          "encoding": {
            "x": {"field": "cat", "type": "nominal", "scale": {"domain": ["Not", "Somewhat Important", "Very Important"], "paddingInner": 0, "paddingOuter": 0}, "axis": {"orient": "top", "domain": false, "ticks": false, "grid": false, "labelAngle": 0, "labelPadding": 32, "labelLineHeight": 20, "labelFont": "Liberation Sans, Arial, sans-serif", "labelFontSize": 14.5, "labelFontWeight": "bold", "labelColor": "#595959", "labelExpr": "datum.value == 'Spiritual not Religious' ? ['Spiritual', 'not Religious'] : indexof(datum.value, ' ') > 0 ? split(datum.value, ' ') : ['', datum.value]", "title": null}},
            "y": {"field": "older", "type": "quantitative", "scale": {"domain": [-7.5, 70], "nice": false, "zero": false}, "axis": {"orient": "left", "values": [0, 10, 20, 30, 40, 50, 60, 70], "domain": false, "ticks": false, "labels": false, "grid": true, "gridColor": "#d0d0d0", "gridDash": [2, 2], "title": null}},
            "text": {"field": "older"}
          }
        },
        {
          "transform": [{"filter": "datum.older > datum.younger"}],
          "mark": {"type": "point", "filled": true, "opacity": 1, "size": 1837, "yOffset": 20},
          "encoding": {
            "x": {"field": "cat", "type": "nominal", "scale": {"domain": ["Not", "Somewhat Important", "Very Important"], "paddingInner": 0, "paddingOuter": 0}, "axis": {"orient": "top", "domain": false, "ticks": false, "grid": false, "labelAngle": 0, "labelPadding": 32, "labelLineHeight": 20, "labelFont": "Liberation Sans, Arial, sans-serif", "labelFontSize": 14.5, "labelFontWeight": "bold", "labelColor": "#595959", "labelExpr": "datum.value == 'Spiritual not Religious' ? ['Spiritual', 'not Religious'] : indexof(datum.value, ' ') > 0 ? split(datum.value, ' ') : ['', datum.value]", "title": null}},
            "y": {"field": "younger", "type": "quantitative", "scale": {"domain": [-7.5, 70], "nice": false, "zero": false}, "axis": {"orient": "left", "values": [0, 10, 20, 30, 40, 50, 60, 70], "domain": false, "ticks": false, "labels": false, "grid": true, "gridColor": "#d0d0d0", "gridDash": [2, 2], "title": null}},
            "color": {"datum": "Younger", "scale": {"domain": ["Older", "Younger", "Gap between Older and Younger"], "range": ["#2f5597", "#a9d18e", "#ccf6f7"]}, "legend": {"title": null, "orient": "none", "legendX": -40, "legendY": 460, "symbolSize": 1849, "labelFont": "Lato", "labelFontSize": 17.8, "labelFontWeight": "bold", "labelColor": "#4d4d4d", "labelOffset": 10, "rowPadding": 6.5, "symbolStrokeWidth": 0, "symbolOpacity": 1, "labelLimit": 400}},
            "shape": {"datum": "Younger", "scale": {"domain": ["Older", "Younger", "Gap between Older and Younger"], "range": ["M-0.79,0A0.79,0.79,0,1,0,0.79,0A0.79,0.79,0,1,0,-0.79,0Z", "M-0.67,-0.77L0.67,-0.77Q0.77,-0.77,0.77,-0.67L0.77,0.67Q0.77,0.77,0.67,0.77L-0.67,0.77Q-0.77,0.77,-0.77,0.67L-0.77,-0.67Q-0.77,-0.77,-0.67,-0.77Z", "M-1,-0.49L1,-0.49L1,0.49L-1,0.49Z"]}, "legend": {"title": null, "orient": "none", "legendX": -40, "legendY": 460, "symbolSize": 1849, "labelFont": "Lato", "labelFontSize": 17.8, "labelFontWeight": "bold", "labelColor": "#4d4d4d", "labelOffset": 10, "rowPadding": 6.5, "symbolStrokeWidth": 0, "symbolOpacity": 1, "labelLimit": 400}}
          }
        },
        {
          "transform": [{"filter": "datum.older <= datum.younger"}],
          "mark": {"type": "point", "filled": true, "opacity": 1, "size": 1837, "yOffset": -20},
          "encoding": {
            "x": {"field": "cat", "type": "nominal", "scale": {"domain": ["Not", "Somewhat Important", "Very Important"], "paddingInner": 0, "paddingOuter": 0}, "axis": {"orient": "top", "domain": false, "ticks": false, "grid": false, "labelAngle": 0, "labelPadding": 32, "labelLineHeight": 20, "labelFont": "Liberation Sans, Arial, sans-serif", "labelFontSize": 14.5, "labelFontWeight": "bold", "labelColor": "#595959", "labelExpr": "datum.value == 'Spiritual not Religious' ? ['Spiritual', 'not Religious'] : indexof(datum.value, ' ') > 0 ? split(datum.value, ' ') : ['', datum.value]", "title": null}},
            "y": {"field": "younger", "type": "quantitative", "scale": {"domain": [-7.5, 70], "nice": false, "zero": false}, "axis": {"orient": "left", "values": [0, 10, 20, 30, 40, 50, 60, 70], "domain": false, "ticks": false, "labels": false, "grid": true, "gridColor": "#d0d0d0", "gridDash": [2, 2], "title": null}},
            "color": {"datum": "Younger", "scale": {"domain": ["Older", "Younger", "Gap between Older and Younger"], "range": ["#2f5597", "#a9d18e", "#ccf6f7"]}, "legend": {"title": null, "orient": "none", "legendX": -40, "legendY": 460, "symbolSize": 1849, "labelFont": "Lato", "labelFontSize": 17.8, "labelFontWeight": "bold", "labelColor": "#4d4d4d", "labelOffset": 10, "rowPadding": 6.5, "symbolStrokeWidth": 0, "symbolOpacity": 1, "labelLimit": 400}},
            "shape": {"datum": "Younger", "scale": {"domain": ["Older", "Younger", "Gap between Older and Younger"], "range": ["M-0.79,0A0.79,0.79,0,1,0,0.79,0A0.79,0.79,0,1,0,-0.79,0Z", "M-0.67,-0.77L0.67,-0.77Q0.77,-0.77,0.77,-0.67L0.77,0.67Q0.77,0.77,0.67,0.77L-0.67,0.77Q-0.77,0.77,-0.77,0.67L-0.77,-0.67Q-0.77,-0.77,-0.67,-0.77Z", "M-1,-0.49L1,-0.49L1,0.49L-1,0.49Z"]}, "legend": {"title": null, "orient": "none", "legendX": -40, "legendY": 460, "symbolSize": 1849, "labelFont": "Lato", "labelFontSize": 17.8, "labelFontWeight": "bold", "labelColor": "#4d4d4d", "labelOffset": 10, "rowPadding": 6.5, "symbolStrokeWidth": 0, "symbolOpacity": 1, "labelLimit": 400}}
          }
        },
        {
          "transform": [{"filter": "datum.older > datum.younger"}],
          "mark": {"type": "text", "yOffset": 20, "color": "#375623", "font": "Lato", "fontWeight": "bold", "fontSize": 16.5, "baseline": "middle"},
          "encoding": {
            "x": {"field": "cat", "type": "nominal", "scale": {"domain": ["Not", "Somewhat Important", "Very Important"], "paddingInner": 0, "paddingOuter": 0}, "axis": {"orient": "top", "domain": false, "ticks": false, "grid": false, "labelAngle": 0, "labelPadding": 32, "labelLineHeight": 20, "labelFont": "Liberation Sans, Arial, sans-serif", "labelFontSize": 14.5, "labelFontWeight": "bold", "labelColor": "#595959", "labelExpr": "datum.value == 'Spiritual not Religious' ? ['Spiritual', 'not Religious'] : indexof(datum.value, ' ') > 0 ? split(datum.value, ' ') : ['', datum.value]", "title": null}},
            "y": {"field": "younger", "type": "quantitative", "scale": {"domain": [-7.5, 70], "nice": false, "zero": false}, "axis": {"orient": "left", "values": [0, 10, 20, 30, 40, 50, 60, 70], "domain": false, "ticks": false, "labels": false, "grid": true, "gridColor": "#d0d0d0", "gridDash": [2, 2], "title": null}},
            "text": {"field": "younger"}
          }
        },
        {
          "transform": [{"filter": "datum.older <= datum.younger"}],
          "mark": {"type": "text", "yOffset": -20, "color": "#375623", "font": "Lato", "fontWeight": "bold", "fontSize": 16.5, "baseline": "middle"},
          "encoding": {
            "x": {"field": "cat", "type": "nominal", "scale": {"domain": ["Not", "Somewhat Important", "Very Important"], "paddingInner": 0, "paddingOuter": 0}, "axis": {"orient": "top", "domain": false, "ticks": false, "grid": false, "labelAngle": 0, "labelPadding": 32, "labelLineHeight": 20, "labelFont": "Liberation Sans, Arial, sans-serif", "labelFontSize": 14.5, "labelFontWeight": "bold", "labelColor": "#595959", "labelExpr": "datum.value == 'Spiritual not Religious' ? ['Spiritual', 'not Religious'] : indexof(datum.value, ' ') > 0 ? split(datum.value, ' ') : ['', datum.value]", "title": null}},
            "y": {"field": "younger", "type": "quantitative", "scale": {"domain": [-7.5, 70], "nice": false, "zero": false}, "axis": {"orient": "left", "values": [0, 10, 20, 30, 40, 50, 60, 70], "domain": false, "ticks": false, "labels": false, "grid": true, "gridColor": "#d0d0d0", "gridDash": [2, 2], "title": null}},
            "text": {"field": "younger"}
          }
        }
      ]
    },
    {
      "width": 300,
      "height": 450,
      "title": {"text": ["Do you think of yourself as a religious person?", "Do you think of yourself as a spiritual person?"], "offset": 50, "dx": 17},
      "data": {"values": [
        {"cat": "Neither", "older": 64, "younger": 49},
        {"cat": "Spiritual not Religious", "older": 16, "younger": 19},
        {"cat": "Religious", "older": 20, "younger": 32}
      ]},
      "layer": [
        {
          "mark": {"type": "bar", "size": 21},
          "encoding": {
            "x": {"field": "cat", "type": "nominal", "scale": {"domain": ["Neither", "Spiritual not Religious", "Religious"], "paddingInner": 0, "paddingOuter": 0}, "axis": {"orient": "top", "domain": false, "ticks": false, "grid": false, "labelAngle": 0, "labelPadding": 32, "labelLineHeight": 20, "labelFont": "Liberation Sans, Arial, sans-serif", "labelFontSize": 14.5, "labelFontWeight": "bold", "labelColor": "#595959", "labelExpr": "datum.value == 'Spiritual not Religious' ? ['Spiritual', 'not Religious'] : indexof(datum.value, ' ') > 0 ? split(datum.value, ' ') : ['', datum.value]", "title": null}},
            "y": {"field": "older", "type": "quantitative", "scale": {"domain": [-7.5, 70], "nice": false, "zero": false}, "axis": {"orient": "right", "values": [0, 10, 20, 30, 40, 50, 60, 70], "domain": false, "ticks": false, "grid": true, "gridColor": "#d0d0d0", "gridDash": [2, 2], "labelPadding": 10, "labelFont": "Lato", "labelFontSize": 16, "labelFontWeight": "bold", "labelColor": "#595959", "labelFlush": false, "labelOverlap": false, "title": null}},
            "y2": {"field": "younger"},
            "color": {"datum": "Gap between Older and Younger", "scale": {"domain": ["Older", "Younger", "Gap between Older and Younger"], "range": ["#2f5597", "#a9d18e", "#ccf6f7"]}, "legend": {"title": null, "orient": "none", "legendX": -40, "legendY": 460, "symbolSize": 1849, "labelFont": "Lato", "labelFontSize": 17.8, "labelFontWeight": "bold", "labelColor": "#4d4d4d", "labelOffset": 10, "rowPadding": 6.5, "symbolStrokeWidth": 0, "symbolOpacity": 1, "labelLimit": 400}}
          }
        },
        {
          "data": {"values": [{"label": "Religious/Spiritual Identity"}]},
          "mark": {"type": "bar", "width": 207, "color": "#f2f2f2"},
          "encoding": {
            "x": {"datum": "Spiritual not Religious", "type": "nominal", "scale": {"domain": ["Neither", "Spiritual not Religious", "Religious"], "paddingInner": 0, "paddingOuter": 0}, "axis": {"orient": "top", "domain": false, "ticks": false, "grid": false, "labelAngle": 0, "labelPadding": 32, "labelLineHeight": 20, "labelFont": "Liberation Sans, Arial, sans-serif", "labelFontSize": 14.5, "labelFontWeight": "bold", "labelColor": "#595959", "labelExpr": "datum.value == 'Spiritual not Religious' ? ['Spiritual', 'not Religious'] : indexof(datum.value, ' ') > 0 ? split(datum.value, ' ') : ['', datum.value]", "title": null}},
            "y": {"datum": -2.17, "type": "quantitative", "scale": {"domain": [-7.5, 70], "nice": false, "zero": false}, "axis": {"orient": "right", "values": [0, 10, 20, 30, 40, 50, 60, 70], "domain": false, "ticks": false, "grid": true, "gridColor": "#d0d0d0", "gridDash": [2, 2], "labelPadding": 10, "labelFont": "Lato", "labelFontSize": 16, "labelFontWeight": "bold", "labelColor": "#595959", "labelFlush": false, "labelOverlap": false, "title": null}},
            "y2": {"datum": -6.82}
          }
        },
        {
          "data": {"values": [{"label": "Religious/Spiritual Identity"}]},
          "mark": {"type": "text", "font": "Liberation Sans, Arial, sans-serif", "fontSize": 15.5, "fontWeight": "bold", "color": "#404040", "baseline": "middle"},
          "encoding": {
            "x": {"datum": "Spiritual not Religious", "type": "nominal", "scale": {"domain": ["Neither", "Spiritual not Religious", "Religious"], "paddingInner": 0, "paddingOuter": 0}, "axis": {"orient": "top", "domain": false, "ticks": false, "grid": false, "labelAngle": 0, "labelPadding": 32, "labelLineHeight": 20, "labelFont": "Liberation Sans, Arial, sans-serif", "labelFontSize": 14.5, "labelFontWeight": "bold", "labelColor": "#595959", "labelExpr": "datum.value == 'Spiritual not Religious' ? ['Spiritual', 'not Religious'] : indexof(datum.value, ' ') > 0 ? split(datum.value, ' ') : ['', datum.value]", "title": null}},
            "y": {"datum": -4.58, "type": "quantitative", "scale": {"domain": [-7.5, 70], "nice": false, "zero": false}, "axis": {"orient": "right", "values": [0, 10, 20, 30, 40, 50, 60, 70], "domain": false, "ticks": false, "grid": true, "gridColor": "#d0d0d0", "gridDash": [2, 2], "labelPadding": 10, "labelFont": "Lato", "labelFontSize": 16, "labelFontWeight": "bold", "labelColor": "#595959", "labelFlush": false, "labelOverlap": false, "title": null}},
            "text": {"field": "label"}
          }
        },
        {
          "transform": [{"filter": "datum.older > datum.younger"}],
          "mark": {"type": "point", "filled": true, "opacity": 1, "size": 2437, "yOffset": -24.5},
          "encoding": {
            "x": {"field": "cat", "type": "nominal", "scale": {"domain": ["Neither", "Spiritual not Religious", "Religious"], "paddingInner": 0, "paddingOuter": 0}, "axis": {"orient": "top", "domain": false, "ticks": false, "grid": false, "labelAngle": 0, "labelPadding": 32, "labelLineHeight": 20, "labelFont": "Liberation Sans, Arial, sans-serif", "labelFontSize": 14.5, "labelFontWeight": "bold", "labelColor": "#595959", "labelExpr": "datum.value == 'Spiritual not Religious' ? ['Spiritual', 'not Religious'] : indexof(datum.value, ' ') > 0 ? split(datum.value, ' ') : ['', datum.value]", "title": null}},
            "y": {"field": "older", "type": "quantitative", "scale": {"domain": [-7.5, 70], "nice": false, "zero": false}, "axis": {"orient": "right", "values": [0, 10, 20, 30, 40, 50, 60, 70], "domain": false, "ticks": false, "grid": true, "gridColor": "#d0d0d0", "gridDash": [2, 2], "labelPadding": 10, "labelFont": "Lato", "labelFontSize": 16, "labelFontWeight": "bold", "labelColor": "#595959", "labelFlush": false, "labelOverlap": false, "title": null}},
            "color": {"datum": "Older", "scale": {"domain": ["Older", "Younger", "Gap between Older and Younger"], "range": ["#2f5597", "#a9d18e", "#ccf6f7"]}, "legend": {"title": null, "orient": "none", "legendX": -40, "legendY": 460, "symbolSize": 1849, "labelFont": "Lato", "labelFontSize": 17.8, "labelFontWeight": "bold", "labelColor": "#4d4d4d", "labelOffset": 10, "rowPadding": 6.5, "symbolStrokeWidth": 0, "symbolOpacity": 1, "labelLimit": 400}},
            "shape": {"datum": "Older", "scale": {"domain": ["Older", "Younger", "Gap between Older and Younger"], "range": ["M-0.79,0A0.79,0.79,0,1,0,0.79,0A0.79,0.79,0,1,0,-0.79,0Z", "M-0.67,-0.77L0.67,-0.77Q0.77,-0.77,0.77,-0.67L0.77,0.67Q0.77,0.77,0.67,0.77L-0.67,0.77Q-0.77,0.77,-0.77,0.67L-0.77,-0.67Q-0.77,-0.77,-0.67,-0.77Z", "M-1,-0.49L1,-0.49L1,0.49L-1,0.49Z"]}, "legend": {"title": null, "orient": "none", "legendX": -40, "legendY": 460, "symbolSize": 1849, "labelFont": "Lato", "labelFontSize": 17.8, "labelFontWeight": "bold", "labelColor": "#4d4d4d", "labelOffset": 10, "rowPadding": 6.5, "symbolStrokeWidth": 0, "symbolOpacity": 1, "labelLimit": 400}}
          }
        },
        {
          "transform": [{"filter": "datum.older <= datum.younger"}],
          "mark": {"type": "point", "filled": true, "opacity": 1, "size": 2437, "yOffset": 24.5},
          "encoding": {
            "x": {"field": "cat", "type": "nominal", "scale": {"domain": ["Neither", "Spiritual not Religious", "Religious"], "paddingInner": 0, "paddingOuter": 0}, "axis": {"orient": "top", "domain": false, "ticks": false, "grid": false, "labelAngle": 0, "labelPadding": 32, "labelLineHeight": 20, "labelFont": "Liberation Sans, Arial, sans-serif", "labelFontSize": 14.5, "labelFontWeight": "bold", "labelColor": "#595959", "labelExpr": "datum.value == 'Spiritual not Religious' ? ['Spiritual', 'not Religious'] : indexof(datum.value, ' ') > 0 ? split(datum.value, ' ') : ['', datum.value]", "title": null}},
            "y": {"field": "older", "type": "quantitative", "scale": {"domain": [-7.5, 70], "nice": false, "zero": false}, "axis": {"orient": "right", "values": [0, 10, 20, 30, 40, 50, 60, 70], "domain": false, "ticks": false, "grid": true, "gridColor": "#d0d0d0", "gridDash": [2, 2], "labelPadding": 10, "labelFont": "Lato", "labelFontSize": 16, "labelFontWeight": "bold", "labelColor": "#595959", "labelFlush": false, "labelOverlap": false, "title": null}},
            "color": {"datum": "Older", "scale": {"domain": ["Older", "Younger", "Gap between Older and Younger"], "range": ["#2f5597", "#a9d18e", "#ccf6f7"]}, "legend": {"title": null, "orient": "none", "legendX": -40, "legendY": 460, "symbolSize": 1849, "labelFont": "Lato", "labelFontSize": 17.8, "labelFontWeight": "bold", "labelColor": "#4d4d4d", "labelOffset": 10, "rowPadding": 6.5, "symbolStrokeWidth": 0, "symbolOpacity": 1, "labelLimit": 400}},
            "shape": {"datum": "Older", "scale": {"domain": ["Older", "Younger", "Gap between Older and Younger"], "range": ["M-0.79,0A0.79,0.79,0,1,0,0.79,0A0.79,0.79,0,1,0,-0.79,0Z", "M-0.67,-0.77L0.67,-0.77Q0.77,-0.77,0.77,-0.67L0.77,0.67Q0.77,0.77,0.67,0.77L-0.67,0.77Q-0.77,0.77,-0.77,0.67L-0.77,-0.67Q-0.77,-0.77,-0.67,-0.77Z", "M-1,-0.49L1,-0.49L1,0.49L-1,0.49Z"]}, "legend": {"title": null, "orient": "none", "legendX": -40, "legendY": 460, "symbolSize": 1849, "labelFont": "Lato", "labelFontSize": 17.8, "labelFontWeight": "bold", "labelColor": "#4d4d4d", "labelOffset": 10, "rowPadding": 6.5, "symbolStrokeWidth": 0, "symbolOpacity": 1, "labelLimit": 400}}
          }
        },
        {
          "transform": [{"filter": "datum.older > datum.younger"}],
          "mark": {"type": "text", "yOffset": -24.5, "color": "#ffffff", "font": "Lato", "fontWeight": "bold", "fontSize": 16.5, "baseline": "middle"},
          "encoding": {
            "x": {"field": "cat", "type": "nominal", "scale": {"domain": ["Neither", "Spiritual not Religious", "Religious"], "paddingInner": 0, "paddingOuter": 0}, "axis": {"orient": "top", "domain": false, "ticks": false, "grid": false, "labelAngle": 0, "labelPadding": 32, "labelLineHeight": 20, "labelFont": "Liberation Sans, Arial, sans-serif", "labelFontSize": 14.5, "labelFontWeight": "bold", "labelColor": "#595959", "labelExpr": "datum.value == 'Spiritual not Religious' ? ['Spiritual', 'not Religious'] : indexof(datum.value, ' ') > 0 ? split(datum.value, ' ') : ['', datum.value]", "title": null}},
            "y": {"field": "older", "type": "quantitative", "scale": {"domain": [-7.5, 70], "nice": false, "zero": false}, "axis": {"orient": "right", "values": [0, 10, 20, 30, 40, 50, 60, 70], "domain": false, "ticks": false, "grid": true, "gridColor": "#d0d0d0", "gridDash": [2, 2], "labelPadding": 10, "labelFont": "Lato", "labelFontSize": 16, "labelFontWeight": "bold", "labelColor": "#595959", "labelFlush": false, "labelOverlap": false, "title": null}},
            "text": {"field": "older"}
          }
        },
        {
          "transform": [{"filter": "datum.older <= datum.younger"}],
          "mark": {"type": "text", "yOffset": 24.5, "color": "#ffffff", "font": "Lato", "fontWeight": "bold", "fontSize": 16.5, "baseline": "middle"},
          "encoding": {
            "x": {"field": "cat", "type": "nominal", "scale": {"domain": ["Neither", "Spiritual not Religious", "Religious"], "paddingInner": 0, "paddingOuter": 0}, "axis": {"orient": "top", "domain": false, "ticks": false, "grid": false, "labelAngle": 0, "labelPadding": 32, "labelLineHeight": 20, "labelFont": "Liberation Sans, Arial, sans-serif", "labelFontSize": 14.5, "labelFontWeight": "bold", "labelColor": "#595959", "labelExpr": "datum.value == 'Spiritual not Religious' ? ['Spiritual', 'not Religious'] : indexof(datum.value, ' ') > 0 ? split(datum.value, ' ') : ['', datum.value]", "title": null}},
            "y": {"field": "older", "type": "quantitative", "scale": {"domain": [-7.5, 70], "nice": false, "zero": false}, "axis": {"orient": "right", "values": [0, 10, 20, 30, 40, 50, 60, 70], "domain": false, "ticks": false, "grid": true, "gridColor": "#d0d0d0", "gridDash": [2, 2], "labelPadding": 10, "labelFont": "Lato", "labelFontSize": 16, "labelFontWeight": "bold", "labelColor": "#595959", "labelFlush": false, "labelOverlap": false, "title": null}},
            "text": {"field": "older"}
          }
        },
        {
          "transform": [{"filter": "datum.older > datum.younger"}],
          "mark": {"type": "point", "filled": true, "opacity": 1, "size": 1837, "yOffset": 20},
          "encoding": {
            "x": {"field": "cat", "type": "nominal", "scale": {"domain": ["Neither", "Spiritual not Religious", "Religious"], "paddingInner": 0, "paddingOuter": 0}, "axis": {"orient": "top", "domain": false, "ticks": false, "grid": false, "labelAngle": 0, "labelPadding": 32, "labelLineHeight": 20, "labelFont": "Liberation Sans, Arial, sans-serif", "labelFontSize": 14.5, "labelFontWeight": "bold", "labelColor": "#595959", "labelExpr": "datum.value == 'Spiritual not Religious' ? ['Spiritual', 'not Religious'] : indexof(datum.value, ' ') > 0 ? split(datum.value, ' ') : ['', datum.value]", "title": null}},
            "y": {"field": "younger", "type": "quantitative", "scale": {"domain": [-7.5, 70], "nice": false, "zero": false}, "axis": {"orient": "right", "values": [0, 10, 20, 30, 40, 50, 60, 70], "domain": false, "ticks": false, "grid": true, "gridColor": "#d0d0d0", "gridDash": [2, 2], "labelPadding": 10, "labelFont": "Lato", "labelFontSize": 16, "labelFontWeight": "bold", "labelColor": "#595959", "labelFlush": false, "labelOverlap": false, "title": null}},
            "color": {"datum": "Younger", "scale": {"domain": ["Older", "Younger", "Gap between Older and Younger"], "range": ["#2f5597", "#a9d18e", "#ccf6f7"]}, "legend": {"title": null, "orient": "none", "legendX": -40, "legendY": 460, "symbolSize": 1849, "labelFont": "Lato", "labelFontSize": 17.8, "labelFontWeight": "bold", "labelColor": "#4d4d4d", "labelOffset": 10, "rowPadding": 6.5, "symbolStrokeWidth": 0, "symbolOpacity": 1, "labelLimit": 400}},
            "shape": {"datum": "Younger", "scale": {"domain": ["Older", "Younger", "Gap between Older and Younger"], "range": ["M-0.79,0A0.79,0.79,0,1,0,0.79,0A0.79,0.79,0,1,0,-0.79,0Z", "M-0.67,-0.77L0.67,-0.77Q0.77,-0.77,0.77,-0.67L0.77,0.67Q0.77,0.77,0.67,0.77L-0.67,0.77Q-0.77,0.77,-0.77,0.67L-0.77,-0.67Q-0.77,-0.77,-0.67,-0.77Z", "M-1,-0.49L1,-0.49L1,0.49L-1,0.49Z"]}, "legend": {"title": null, "orient": "none", "legendX": -40, "legendY": 460, "symbolSize": 1849, "labelFont": "Lato", "labelFontSize": 17.8, "labelFontWeight": "bold", "labelColor": "#4d4d4d", "labelOffset": 10, "rowPadding": 6.5, "symbolStrokeWidth": 0, "symbolOpacity": 1, "labelLimit": 400}}
          }
        },
        {
          "transform": [{"filter": "datum.older <= datum.younger"}],
          "mark": {"type": "point", "filled": true, "opacity": 1, "size": 1837, "yOffset": -20},
          "encoding": {
            "x": {"field": "cat", "type": "nominal", "scale": {"domain": ["Neither", "Spiritual not Religious", "Religious"], "paddingInner": 0, "paddingOuter": 0}, "axis": {"orient": "top", "domain": false, "ticks": false, "grid": false, "labelAngle": 0, "labelPadding": 32, "labelLineHeight": 20, "labelFont": "Liberation Sans, Arial, sans-serif", "labelFontSize": 14.5, "labelFontWeight": "bold", "labelColor": "#595959", "labelExpr": "datum.value == 'Spiritual not Religious' ? ['Spiritual', 'not Religious'] : indexof(datum.value, ' ') > 0 ? split(datum.value, ' ') : ['', datum.value]", "title": null}},
            "y": {"field": "younger", "type": "quantitative", "scale": {"domain": [-7.5, 70], "nice": false, "zero": false}, "axis": {"orient": "right", "values": [0, 10, 20, 30, 40, 50, 60, 70], "domain": false, "ticks": false, "grid": true, "gridColor": "#d0d0d0", "gridDash": [2, 2], "labelPadding": 10, "labelFont": "Lato", "labelFontSize": 16, "labelFontWeight": "bold", "labelColor": "#595959", "labelFlush": false, "labelOverlap": false, "title": null}},
            "color": {"datum": "Younger", "scale": {"domain": ["Older", "Younger", "Gap between Older and Younger"], "range": ["#2f5597", "#a9d18e", "#ccf6f7"]}, "legend": {"title": null, "orient": "none", "legendX": -40, "legendY": 460, "symbolSize": 1849, "labelFont": "Lato", "labelFontSize": 17.8, "labelFontWeight": "bold", "labelColor": "#4d4d4d", "labelOffset": 10, "rowPadding": 6.5, "symbolStrokeWidth": 0, "symbolOpacity": 1, "labelLimit": 400}},
            "shape": {"datum": "Younger", "scale": {"domain": ["Older", "Younger", "Gap between Older and Younger"], "range": ["M-0.79,0A0.79,0.79,0,1,0,0.79,0A0.79,0.79,0,1,0,-0.79,0Z", "M-0.67,-0.77L0.67,-0.77Q0.77,-0.77,0.77,-0.67L0.77,0.67Q0.77,0.77,0.67,0.77L-0.67,0.77Q-0.77,0.77,-0.77,0.67L-0.77,-0.67Q-0.77,-0.77,-0.67,-0.77Z", "M-1,-0.49L1,-0.49L1,0.49L-1,0.49Z"]}, "legend": {"title": null, "orient": "none", "legendX": -40, "legendY": 460, "symbolSize": 1849, "labelFont": "Lato", "labelFontSize": 17.8, "labelFontWeight": "bold", "labelColor": "#4d4d4d", "labelOffset": 10, "rowPadding": 6.5, "symbolStrokeWidth": 0, "symbolOpacity": 1, "labelLimit": 400}}
          }
        },
        {
          "transform": [{"filter": "datum.older > datum.younger"}],
          "mark": {"type": "text", "yOffset": 20, "color": "#375623", "font": "Lato", "fontWeight": "bold", "fontSize": 16.5, "baseline": "middle"},
          "encoding": {
            "x": {"field": "cat", "type": "nominal", "scale": {"domain": ["Neither", "Spiritual not Religious", "Religious"], "paddingInner": 0, "paddingOuter": 0}, "axis": {"orient": "top", "domain": false, "ticks": false, "grid": false, "labelAngle": 0, "labelPadding": 32, "labelLineHeight": 20, "labelFont": "Liberation Sans, Arial, sans-serif", "labelFontSize": 14.5, "labelFontWeight": "bold", "labelColor": "#595959", "labelExpr": "datum.value == 'Spiritual not Religious' ? ['Spiritual', 'not Religious'] : indexof(datum.value, ' ') > 0 ? split(datum.value, ' ') : ['', datum.value]", "title": null}},
            "y": {"field": "younger", "type": "quantitative", "scale": {"domain": [-7.5, 70], "nice": false, "zero": false}, "axis": {"orient": "right", "values": [0, 10, 20, 30, 40, 50, 60, 70], "domain": false, "ticks": false, "grid": true, "gridColor": "#d0d0d0", "gridDash": [2, 2], "labelPadding": 10, "labelFont": "Lato", "labelFontSize": 16, "labelFontWeight": "bold", "labelColor": "#595959", "labelFlush": false, "labelOverlap": false, "title": null}},
            "text": {"field": "younger"}
          }
        },
        {
          "transform": [{"filter": "datum.older <= datum.younger"}],
          "mark": {"type": "text", "yOffset": -20, "color": "#375623", "font": "Lato", "fontWeight": "bold", "fontSize": 16.5, "baseline": "middle"},
          "encoding": {
            "x": {"field": "cat", "type": "nominal", "scale": {"domain": ["Neither", "Spiritual not Religious", "Religious"], "paddingInner": 0, "paddingOuter": 0}, "axis": {"orient": "top", "domain": false, "ticks": false, "grid": false, "labelAngle": 0, "labelPadding": 32, "labelLineHeight": 20, "labelFont": "Liberation Sans, Arial, sans-serif", "labelFontSize": 14.5, "labelFontWeight": "bold", "labelColor": "#595959", "labelExpr": "datum.value == 'Spiritual not Religious' ? ['Spiritual', 'not Religious'] : indexof(datum.value, ' ') > 0 ? split(datum.value, ' ') : ['', datum.value]", "title": null}},
            "y": {"field": "younger", "type": "quantitative", "scale": {"domain": [-7.5, 70], "nice": false, "zero": false}, "axis": {"orient": "right", "values": [0, 10, 20, 30, 40, 50, 60, 70], "domain": false, "ticks": false, "grid": true, "gridColor": "#d0d0d0", "gridDash": [2, 2], "labelPadding": 10, "labelFont": "Lato", "labelFontSize": 16, "labelFontWeight": "bold", "labelColor": "#595959", "labelFlush": false, "labelOverlap": false, "title": null}},
            "text": {"field": "younger"}
          }
        }
      ]
    }
  ]
}
